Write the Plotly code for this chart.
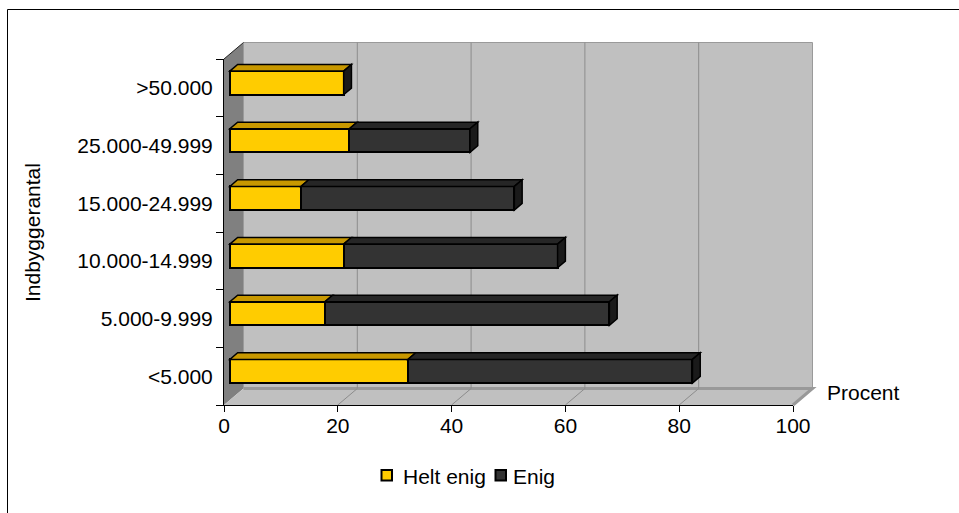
import plotly.graph_objects as go

# ---- data -------------------------------------------------------------
categories = ["<5.000", "5.000-9.999", "10.000-14.999",
              "15.000-24.999", "25.000-49.999", ">50.000"]
helt_enig = [31.3, 16.7, 20.0, 12.5, 21.0, 20.0]
enig = [50.0, 50.0, 37.6, 37.5, 21.2, 0.0]
series_names = ["Helt enig", "Enig"]
x_ticks = [0, 20, 40, 60, 80, 100]

# ---- geometry of the 3D box (pixels) ----------------------------------
W, H = 959, 513
FX0, FX1 = 224, 793          # value 0 / value 100 on the front edge
FYB, FYT = 405, 59           # bottom / top of the category span (front)
DEPTH_PX = (19.5, 16.5)      # oblique depth vector (right, up)

N = len(categories)
SX = (FX1 - FX0) / 100.0
SY = (FYB - FYT) / N
DX = DEPTH_PX[0] / SX        # depth in value units
DY = DEPTH_PX[1] / SY        # depth in category units

BAR_T0 = 0.3                 # where the bar fronts sit along the depth
BAR_TD = 0.4                 # depth of the bars
BAR_W = 0.41                 # bar thickness (category units)

YELLOW, YELLOW_TOP = "#FFCC00", "#C89800"
DARK, DARK_TOP, DARK_SIDE = "#333333", "#262626", "#1A1A1A"
WALL, SIDE_WALL, GRID = "#C0C0C0", "#808080", "#8C8C8C"
FONT = "Arial, Liberation Sans, sans-serif"
FS = 21

# full-figure axis pair used for the box drawing
rx = [-FX0 / SX, (W - FX0) / SX]
ry = [-0.5 - (H - FYB) / SY, -0.5 + FYB / SY]
# shifted pair for the bars (front face of bars lies inside the box)
rx2 = [rx[0] - BAR_T0 * DX, rx[1] - BAR_T0 * DX]
ry2 = [ry[0] - BAR_T0 * DY, ry[1] - BAR_T0 * DY]


def poly(pts, xref="x", yref="y", **kw):
    d = "M " + " L ".join(f"{x},{y}" for x, y in pts) + " Z"
    return dict(type="path", path=d, xref=xref, yref=yref, **kw)


def seg(p, q, xref="x", yref="y", **kw):
    return dict(type="line", x0=p[0], y0=p[1], x1=q[0], y1=q[1],
                xref=xref, yref=yref, **kw)


def px(x):
    return x / W


def py(y):
    return 1 - y / H


shapes = []
yb, yt = -0.5, N - 0.5
# left wall
shapes.append(poly([(0, yb), (DX, yb + DY), (DX, yt + DY), (0, yt)],
                   fillcolor=SIDE_WALL, line=dict(width=0), layer="below"))
# back wall
shapes.append(poly([(DX, yb + DY), (100 + DX, yb + DY),
                    (100 + DX, yt + DY), (DX, yt + DY)],
                   fillcolor=WALL, line=dict(color="#9A9A9A", width=1),
                   layer="below"))
# floor
shapes.append(poly([(0, yb), (100, yb), (100 + DX, yb + DY), (DX, yb + DY)],
                   fillcolor=WALL, line=dict(width=0), layer="below"))
shapes.append(dict(type="path",
                   path=f"M {DX},{yb + DY} L {100 + DX},{yb + DY} L 100,{yb}",
                   xref="x", yref="y", line=dict(color="#999999", width=3),
                   layer="below"))
# gridlines on back wall and floor
for v in x_ticks[1:-1]:
    shapes.append(seg((v + DX, yb + DY), (v + DX, yt + DY),
                      line=dict(color=GRID, width=1), layer="below"))
    shapes.append(seg((v, yb), (v + DX, yb + DY),
                      line=dict(color=GRID, width=1), layer="below"))
# top edge of the left wall
shapes.append(seg((0, yt), (DX, yt + DY), line=dict(color="#222222", width=1)))

# 3D faces of the stacked bars (pair x2/y2)
bdx, bdy = BAR_TD * DX, BAR_TD * DY
edge = dict(color="black", width=1.5)
for i in range(N):
    top = i + BAR_W / 2
    bot = i - BAR_W / 2
    x0 = 0.0
    for val, col in ((helt_enig[i], YELLOW_TOP), (enig[i], DARK_TOP)):
        x1 = x0 + val
        if val > 0:
            shapes.append(poly([(x0, top), (x1, top), (x1 + bdx, top + bdy),
                                (x0 + bdx, top + bdy)], xref="x2", yref="y2",
                               fillcolor=col, line=edge))
        x0 = x1
    shapes.append(poly([(x0, bot), (x0, top), (x0 + bdx, top + bdy),
                        (x0 + bdx, bot + bdy)], xref="x2", yref="y2",
                       fillcolor=DARK_SIDE, line=edge))

# outer chart frame
shapes.append(dict(type="rect", xref="paper", yref="paper",
                   x0=px(7.5), x1=1.05, y0=-0.05, y1=py(9.5),
                   line=dict(color="black", width=1), fillcolor="rgba(0,0,0,0)"))

# legend keys
legend_items = [(series_names[0], YELLOW, 381.5, 401),
                (series_names[1], DARK, 495.5, 511)]
annotations = []
for name, col, sx, tx in legend_items:
    shapes.append(dict(type="rect", xref="paper", yref="paper",
                       x0=px(sx), x1=px(sx + 10.5), y0=py(480.5), y1=py(470),
                       fillcolor=col, line=dict(color="black", width=2)))
    annotations.append(dict(text=name, xref="paper", yref="paper", x=px(tx),
                            y=py(476), xanchor="left", yanchor="middle",
                            showarrow=False, font=dict(size=FS)))

annotations += [
    dict(text="Procent", xref="paper", yref="paper", x=px(863), y=py(392),
         xanchor="center", yanchor="middle", showarrow=False,
         font=dict(size=FS)),
    dict(text="Indbyggerantal", xref="paper", yref="paper", x=px(32),
         y=py(233), xanchor="center", yanchor="middle", textangle=-90,
         showarrow=False, font=dict(size=FS)),
]

fig = go.Figure()
pos = list(range(N))
for name, vals, col in ((series_names[0], helt_enig, YELLOW),
                        (series_names[1], enig, DARK)):
    fig.add_trace(go.Bar(name=name, x=vals, y=pos, orientation="h",
                         width=BAR_W, xaxis="x2", yaxis="y2",
                         customdata=categories, showlegend=False,
                         hovertemplate="%{customdata}: %{x}<extra>"
                                       + name + "</extra>",
                         marker=dict(color=col,
                                     line=dict(color="black", width=2))))
# carrier for the category axis
fig.add_trace(go.Scatter(x=[0] * N, y=categories, mode="markers",
                         marker=dict(opacity=0), showlegend=False,
                         hoverinfo="skip", xaxis="x3", yaxis="y3"))

hidden = dict(visible=False, showgrid=False, zeroline=False, fixedrange=True,
              automargin=False)
fig.update_layout(
    width=W, height=H, autosize=False,
    margin=dict(l=0, r=0, t=0, b=0, pad=0, autoexpand=False),
    paper_bgcolor="white", plot_bgcolor="rgba(0,0,0,0)",
    barmode="stack", bargap=0, showlegend=False,
    font=dict(family=FONT, size=FS, color="black"),
    xaxis=dict(range=rx, domain=[0, 1], anchor="y", **hidden),
    yaxis=dict(range=ry, domain=[0, 1], anchor="x", **hidden),
    xaxis2=dict(range=rx2, overlaying="x", anchor="y2", **hidden),
    yaxis2=dict(range=ry2, overlaying="y", anchor="x2", **hidden),
    xaxis3=dict(domain=[px(FX0), px(FX1)], range=[0, 100], anchor="y3",
                tickvals=x_ticks, ticktext=[str(t) for t in x_ticks],
                ticks="outside", ticklen=6, tickcolor="black",
                ticklabelstandoff=-4,
                showline=True, linecolor="black", linewidth=1,
                showgrid=False, zeroline=False, fixedrange=True,
                automargin=False, tickfont=dict(size=FS)),
    yaxis3=dict(domain=[1 - FYB / H, 1 - FYT / H], range=[-0.5, N - 0.5],
                type="category", categoryarray=categories,
                categoryorder="array", anchor="x3",
                ticks="outside", tickson="boundaries", ticklen=7,
                ticklabelstandoff=6,
                tickcolor="black", showline=True, linecolor="black",
                linewidth=1, showgrid=False, zeroline=False, fixedrange=True,
                automargin=False, tickfont=dict(size=FS)),
    shapes=shapes,
    annotations=annotations,
)

fig.write_html("out.html")
